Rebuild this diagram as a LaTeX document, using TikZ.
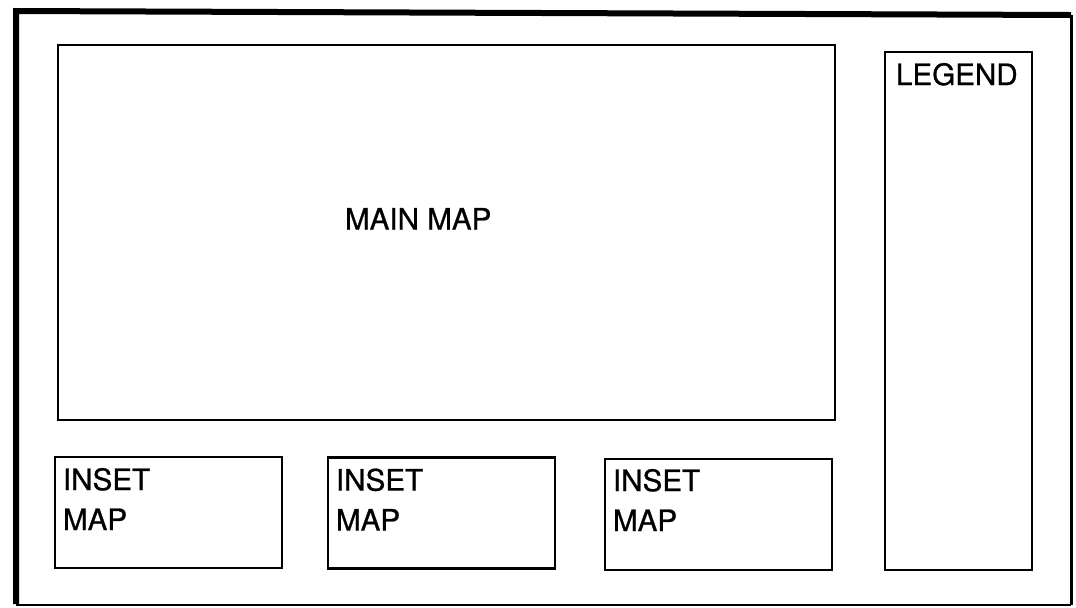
\documentclass[tikz,border=0pt]{standalone}
\usepackage{fontspec}
\setmainfont{TeX Gyre Heros}
\newfontfamily\mapfont[FakeBold=0.8]{TeX Gyre Heros}
\usepackage{tikz}
\usetikzlibrary{positioning}

\begin{document}
\begin{tikzpicture}[x=0.5pt,y=-0.5pt,
  panel/.style={draw,line width=1.4pt,inner sep=0pt,outer sep=0pt},
  inset/.style={panel,minimum width=113.5pt,minimum height=55.5pt},
  lbl/.style={inner sep=0pt,outer sep=0pt,align=left,
              font=\mapfont\fontsize{14.8}{20}\selectfont}]
\useasboundingbox (0,0) rectangle (1076,607);
% sheet border
\draw[line width=3pt] (16,604) -- (16,11) -- (1071,15);
\draw[line width=1.5pt] (1071,15) -- (1071,605);
\draw[line width=1pt] (16,605) -- (1071,605);
% panels
\node[panel,minimum width=388.5pt,minimum height=187.5pt] (main) at (446.5,232.5) {};
\node[panel,minimum width=73.5pt,minimum height=259pt] (leg) at (958.5,311) {};
\node[inset] (in1) at (168.5,512.5) {};
\node[inset] (in2) at (441.5,513) {};
\node[inset] (in3) at (718.5,514.5) {};
% labels
\node[lbl,below right=81.5pt and 143.5pt of main.north west] (tmain) {MAIN MAP};
\node[lbl,below right=5.5pt and 5.5pt of leg.north west] (tleg) {LEGEND};
\node[lbl,below right=5.5pt and 4pt of in1.north west] (tin1) {INSET\\MAP};
\node[lbl,below right=5.5pt and 4pt of in2.north west] (tin2) {INSET\\MAP};
\node[lbl,below right=5pt and 4pt of in3.north west] (tin3) {INSET\\MAP};
\end{tikzpicture}
\end{document}
